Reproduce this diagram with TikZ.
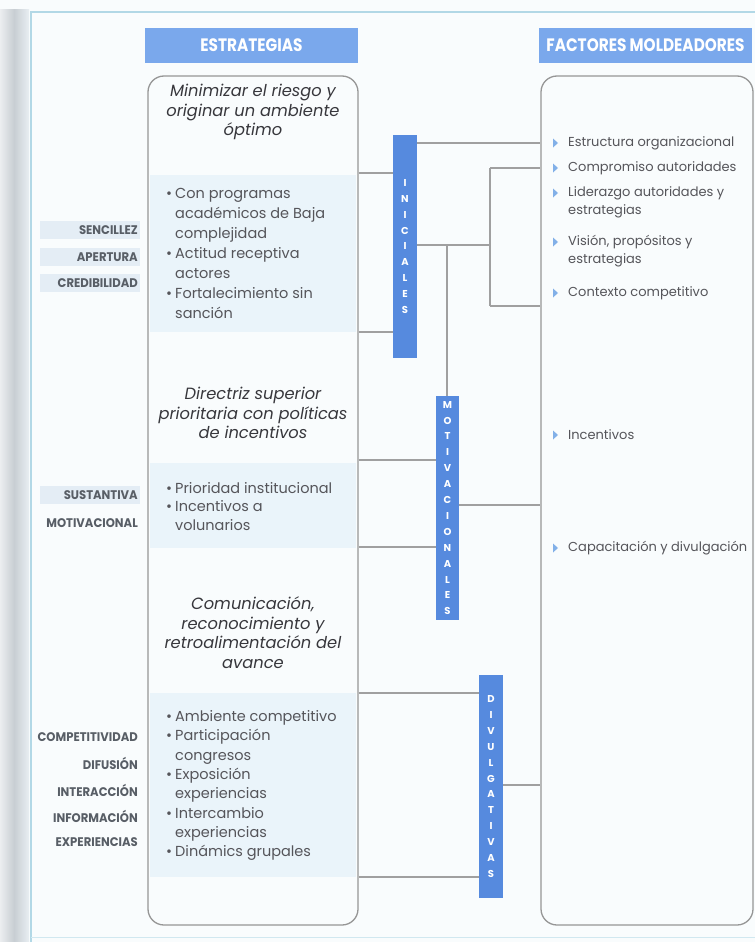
\documentclass[tikz,border=0pt]{standalone}
\usepackage{fontspec}
\setmainfont{Poppins}
\newfontfamily\labfont{Poppins}[FakeStretch=0.93]
\newfontfamily\hdfont{Poppins}[FakeStretch=0.85]
\definecolor{headblue}{RGB}{122,168,236}
\definecolor{barblue}{RGB}{86,138,222}
\definecolor{linegray}{RGB}{160,160,160}
\definecolor{boxgray}{RGB}{150,150,150}
\definecolor{panelblue}{RGB}{234,244,250}
\definecolor{bodytext}{RGB}{85,85,90}
\definecolor{darktext}{RGB}{55,55,60}
\definecolor{labtext}{RGB}{88,94,102}
\definecolor{bandblue}{RGB}{228,237,245}
\definecolor{tripblue}{RGB}{130,176,232}
\definecolor{frameblue}{RGB}{178,216,230}
\definecolor{bgcol}{RGB}{249,252,253}
\newcommand\bl{\makebox[9pt][l]{\textbullet}}
\newcommand\ind{\hspace*{9pt}}
\begin{document}
\begin{tikzpicture}[x=1pt,y=-1pt,
 hdr/.style={fill=headblue, text=white, font=\hdfont\bfseries\fontsize{18}{18}\selectfont, inner sep=0pt},
 bigbox/.style={draw=boxgray, line width=1.3pt, rounded corners=16pt},
 bar/.style={fill=barblue, text=white, inner sep=0pt, align=center, font=\bfseries\fontsize{10}{15.9}\selectfont},
 conn/.style={draw=linegray, line width=1.1pt},
 ital/.style={align=center, text=darktext, font=\itshape\fontsize{16.3}{19.5}\selectfont, inner sep=0pt},
 blist/.style={align=left, text=bodytext, inner sep=0pt, anchor=west},
 fitem/.style={align=left, text=bodytext, font=\fontsize{13}{18}\selectfont, inner sep=0pt, anchor=west},
 lab/.style={anchor=east, text=labtext, font=\labfont\bfseries\fontsize{12.5}{13}\selectfont, inner sep=0pt},
 panel/.style={fill=panelblue},
 band/.style={fill=bandblue},
 tri/.style={fill=tripblue}]
\useasboundingbox (0,0) rectangle (755,942);
% background and frame
\fill[bgcol] (0,0) rectangle (755,942);
\shade[left color={rgb,255:red,236;green,238;blue,240}, right color={rgb,255:red,200;green,206;blue,211}] (0,10) rectangle (14,942);
\shade[left color={rgb,255:red,200;green,206;blue,211}, right color={rgb,255:red,232;green,238;blue,242}] (14,10) rectangle (29,942);
\draw[frameblue, line width=2pt] (30,12) -- (755,12);
\draw[frameblue, line width=1.6pt] (31,12) -- (31,942);
\draw[frameblue!60, line width=1pt] (31,937) -- (755,937);

% headers
\node[hdr, minimum width=213pt, minimum height=35pt] (hS) at (251.5,45.5) {ESTRATEGIAS};
\node[hdr, minimum width=213pt, minimum height=35pt] (hF) at (645.5,45.5) {FACTORES MOLDEADORES};

% left label bands
\fill[band] (40,221) rectangle (140,239);
\fill[band] (40,248) rectangle (140,266);
\fill[band] (40,274) rectangle (140,292);
\fill[band] (40,486) rectangle (140,504);

% panels inside left box
\fill[panel] (150,175) rectangle (356,332);
\fill[panel] (150,463) rectangle (356,548);
\fill[panel] (150,693) rectangle (356,877);

% big boxes
\node[bigbox, minimum width=210pt, minimum height=849pt] (L) at (253,500.5) {};
\node[bigbox, minimum width=212pt, minimum height=849pt] (R) at (647,500.5) {};

% left box texts
\node[ital] (t1) at (253,112) {Minimizar el riesgo y\\originar un ambiente\\óptimo};
\node[blist, font=\fontsize{14.5}{20}\selectfont] (b1) at (166,253) {\bl Con programas\\\ind académicos de Baja\\\ind complejidad\\\bl Actitud receptiva\\\ind actores\\\bl Fortalecimiento sin\\\ind sanción};
\node[ital] (t2) at (253,413) {Directriz superior\\prioritaria con políticas\\de incentivos};
\node[blist, font=\fontsize{14.5}{18.5}\selectfont] (b2) at (166,506.5) {\bl Prioridad institucional\\\bl Incentivos a\\\ind volunarios};
\node[ital] (t3) at (253,632.5) {Comunicación,\\reconocimiento y\\retroalimentación del\\avance};
\node[blist, font=\fontsize{14.5}{19.3}\selectfont] (b3) at (166,785.5) {\bl Ambiente competitivo\\\bl Participación\\\ind congresos\\\bl Exposición\\\ind experiencias\\\bl Intercambio\\\ind experiencias\\\bl Dinámics grupales};

% left labels
\node[lab] (l1) at (138,230) {SENCILLEZ};
\node[lab] (l2) at (138,257) {APERTURA};
\node[lab] (l3) at (138,283) {CREDIBILIDAD};
\node[lab] (l4) at (138,495) {SUSTANTIVA};
\node[lab] (l5) at (138,523) {MOTIVACIONAL};
\node[lab] (l6) at (138,737) {COMPETITIVIDAD};
\node[lab] (l7) at (138,763) {DIFUSIÓN};
\node[lab] (l8) at (138,790) {INTERACCIÓN};
\node[lab] (l9) at (138,816) {INFORMACIÓN};
\node[lab] (l10) at (138,842) {EXPERIENCIAS};

% bars
\node[bar, minimum width=24pt, minimum height=223pt] (INI) at (405,246.5) {I\\N\\I\\C\\I\\A\\L\\E\\S};
\node[bar, minimum width=23pt, minimum height=224pt] (MOT) at (447.5,508) {M\\O\\T\\I\\V\\A\\C\\I\\O\\N\\A\\L\\E\\S};
\node[bar, minimum width=24pt, minimum height=223pt] (DIV) at (491,786.5) {D\\I\\V\\U\\L\\G\\A\\T\\I\\V\\A\\S};

% right items
\node[fitem] (f1) at (568,143) {Estructura organizacional};
\node[fitem] (f2) at (568,168) {Compromiso autoridades};
\node[fitem] (f3) at (568,202) {Liderazgo autoridades y\\estrategias};
\node[fitem] (f4) at (568,251) {Visión, propósitos y\\estrategias};
\node[fitem] (f5) at (568,293) {Contexto competitivo};
\node[fitem] (f6) at (568,435) {Incentivos};
\node[fitem] (f7) at (568,548) {Capacitación y divulgación};
\foreach \yy in {143,168,193,242,293,435,548}
  \fill[tri] (553,\yy-4.5) -- (558,\yy) -- (553,\yy+4.5) -- cycle;

% connectors
\coordinate (j1) at (490,245);
\coordinate (j2) at (447,245);
\draw[conn] (L.east |- 0,173) -- (INI.west |- 0,173);
\draw[conn] (L.east |- 0,332) -- (INI.west |- 0,332);
\draw[conn] (INI.east |- 0,143) -- (R.west |- 0,143);
\draw[conn] (INI.east |- j1) -- (j1);
\draw[conn] (j1 |- 0,168) -- (j1 |- 0,306);
\draw[conn] (j1 |- 0,168) -- (R.west |- 0,168);
\draw[conn] (j1 |- 0,306) -- (R.west |- 0,306);
\draw[conn] (j2) -- (MOT.north -| j2);
\draw[conn] (L.east |- 0,460) -- (MOT.west |- 0,460);
\draw[conn] (L.east |- 0,547) -- (MOT.west |- 0,547);
\draw[conn] (MOT.east |- 0,505) -- (R.west |- 0,505);
\draw[conn] (L.east |- 0,693) -- (DIV.west |- 0,693);
\draw[conn] (L.east |- 0,877) -- (DIV.west |- 0,877);
\draw[conn] (DIV.east |- 0,785) -- (R.west |- 0,785);
\end{tikzpicture}
\end{document}
